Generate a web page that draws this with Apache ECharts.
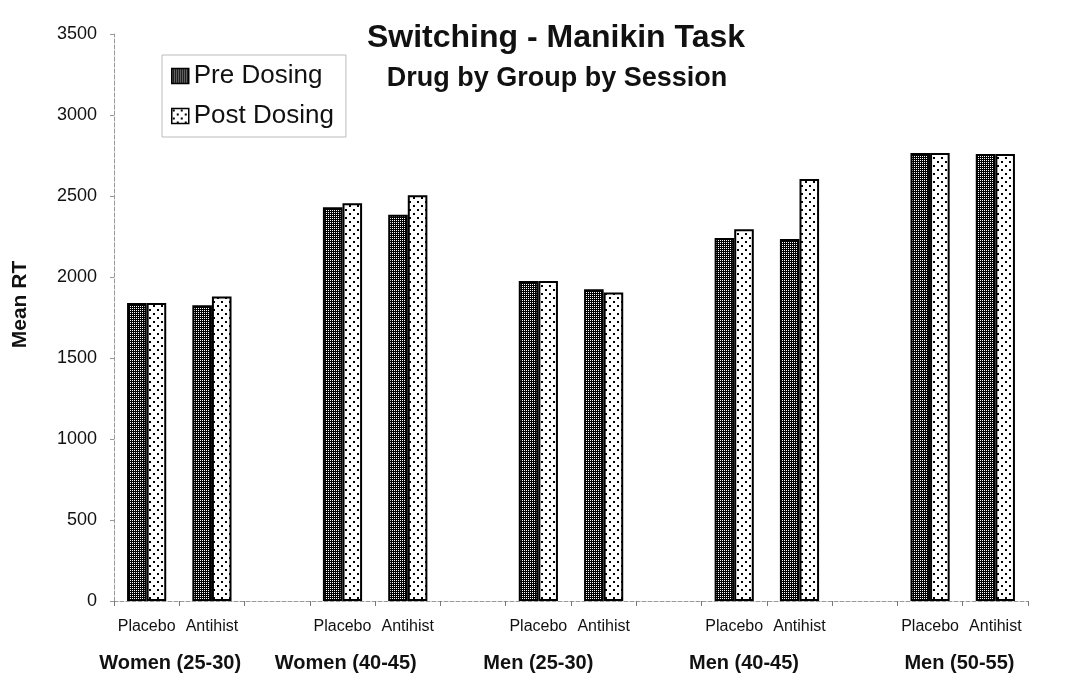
<!DOCTYPE html>
<html>
<head>
<meta charset="utf-8">
<script src="https://cdn.jsdelivr.net/npm/echarts@6/dist/echarts.min.js"></script>
<style>
  html, body { margin: 0; padding: 0; background: #fff; }
  #chart { width: 1067px; height: 698px; }
</style>
</head>
<body>
<div id="chart"></div>
<script>
// values
const groups = ['Women (25-30)', 'Women (40-45)', 'Men (25-30)', 'Men (40-45)', 'Men (50-55)'];
const drugs = ['Placebo', 'Antihist'];
const preDosing = [[1840, 1825], [2430, 2385], [1975, 1925], [2240, 2235], [2765, 2760]];
const postDosing = [[1840, 1880], [2455, 2505], [1975, 1905], [2295, 2605], [2765, 2760]];
const seriesNames = ['Pre Dosing', 'Post Dosing'];

const FONT = 'Arial, "Liberation Sans", sans-serif';

// build the category axis: two drugs per group, an empty slot between groups
const categories = [];
const preData = [];
const postData = [];
groups.forEach((g, gi) => {
  drugs.forEach((d, di) => {
    categories.push(d);
    preData.push(preDosing[gi][di]);
    postData.push(postDosing[gi][di]);
  });
  if (gi < groups.length - 1) {
    categories.push('');
    preData.push('-');
    postData.push('-');
  }
});

// where the group names sit, in category units (they are not evenly centred in the scan)
const groupLabelAt = [0.36, 3.05, 6.0, 9.15, 12.45];

function makePattern(w, h, bg, fg, dots) {
  const c = document.createElement('canvas');
  c.width = w;
  c.height = h;
  const ctx = c.getContext('2d');
  ctx.fillStyle = bg;
  ctx.fillRect(0, 0, w, h);
  ctx.fillStyle = fg;
  dots.forEach(p => ctx.fillRect(p[0], p[1], p[2], p[3]));
  return { image: c, repeat: 'repeat' };
}

// fine dark stipple for "Pre", sparse black dots on white for "Post"
const prePattern = makePattern(2, 2, '#000', '#fff', [[0, 0, 1, 1]]);
const postPattern = makePattern(8, 8, '#fff', '#000', [[1, 1, 2, 2], [5, 5, 2, 2]]);

const chart = echarts.init(document.getElementById('chart'));

const option = {
  backgroundColor: '#fff',
  animation: false,
  textStyle: { fontFamily: FONT },
  title: [
    {
      text: 'Switching - Manikin Task',
      left: 551,
      top: 17,
      textAlign: 'center',
      textStyle: { fontFamily: FONT, fontSize: 32, fontWeight: 'bold', color: '#111' }
    },
    {
      text: 'Drug by Group by Session',
      left: 552,
      top: 60,
      textAlign: 'center',
      textStyle: { fontFamily: FONT, fontSize: 27, fontWeight: 'bold', color: '#111' }
    }
  ],
  legend: {
    orient: 'vertical',
    left: 162,
    top: 55,
    data: seriesNames,
    itemWidth: 17,
    itemHeight: 15,
    itemGap: 14,
    padding: [8, 12, 8, 9],
    borderColor: '#bbb',
    borderWidth: 1,
    icon: 'rect',
    itemStyle: { borderColor: '#000', borderWidth: 1.5 },
    textStyle: { fontFamily: FONT, fontSize: 26, color: '#111' }
  },
  grid: { left: 114, right: 39, top: 34, bottom: 97 },
  xAxis: [
    {
      type: 'category',
      data: categories,
      axisLine: { lineStyle: { color: '#999', type: 'dashed', width: 1 } },
      axisTick: { show: true, interval: 0, length: 5, lineStyle: { color: '#777' } },
      axisLabel: { interval: 0, margin: 18, fontSize: 16, color: '#111', fontFamily: FONT }
    },
    {
      type: 'value',
      min: -0.5,
      max: 13.5,
      position: 'bottom',
      axisLine: { show: false },
      axisTick: { show: false },
      splitLine: { show: false },
      axisLabel: {
        customValues: groupLabelAt,
        formatter: v => {
          const i = groupLabelAt.indexOf(v);
          return i >= 0 ? groups[i] : '';
        },
        margin: 52,
        fontSize: 20,
        fontWeight: 'bold',
        color: '#111',
        fontFamily: FONT
      }
    }
  ],
  yAxis: {
    type: 'value',
    min: 0,
    max: 3500,
    interval: 500,
    name: 'Mean RT',
    nameLocation: 'middle',
    nameGap: 83,
    nameRotate: 90,
    nameTextStyle: { fontFamily: FONT, fontSize: 21, fontWeight: 'bold', color: '#111', padding: [0, 0, 0, 26] },
    axisLine: { show: true, onZero: false, lineStyle: { color: '#999', type: 'dashed', width: 1 } },
    axisTick: { show: true, length: 4, lineStyle: { color: '#999' } },
    splitLine: { show: false },
    axisLabel: { margin: 17, fontSize: 18, color: '#111', fontFamily: FONT, formatter: v => String(v) }
  },
  series: [
    {
      name: seriesNames[0],
      type: 'bar',
      data: preData,
      barGap: '0%',
      barCategoryGap: '40%',
      itemStyle: { color: prePattern, borderColor: '#000', borderWidth: 2 }
    },
    {
      name: seriesNames[1],
      type: 'bar',
      data: postData,
      barGap: '0%',
      barCategoryGap: '40%',
      itemStyle: { color: postPattern, borderColor: '#000', borderWidth: 2 }
    }
  ]
};

chart.setOption(option);
</script>
</body>
</html>
